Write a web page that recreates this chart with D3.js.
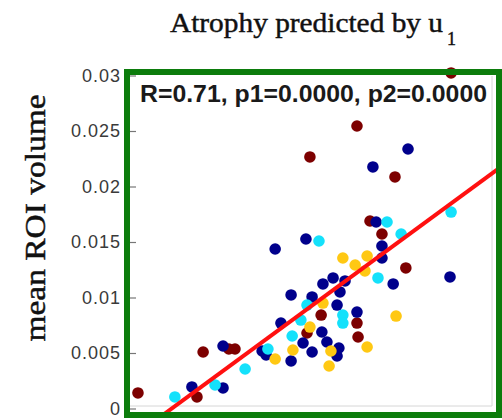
<!DOCTYPE html>
<html>
<head>
<meta charset="utf-8">
<script src="https://cdn.jsdelivr.net/npm/d3@7"></script>
<style>
  html, body { margin: 0; padding: 0; background: #fff; }
  svg { display: block; }
</style>
</head>
<body>
<div id="chart"></div>
<script>
// ---- data ----
const titleText = "Atrophy predicted by u";
const titleSub = "1";
const yLabelText = "mean ROI volume";
const statsText = "R=0.71, p1=0.0000, p2=0.0000";

const yTickValues = [0, 0.005, 0.01, 0.015, 0.02, 0.025, 0.03];
const yTickLabels = ["0", "0.005", "0.01", "0.015", "0.02", "0.025", "0.03"];

const groupNames = ["darkred", "navy", "cyan", "yellow"];
const groupColors = ["#7d0000", "#00008c", "#14e1fb", "#ffc813"];

const darkredX = [0.887, 0.627, 0.497, 0.732, 0.663, 0.696, 0.762, 0.528, 0.489, 0.627, 0.630, 0.022, 0.185, 0.202, 0.273, 0.290];
const darkredY = [0.03023, 0.02545, 0.02266, 0.02086, 0.01689, 0.01572, 0.01266, 0.00842, 0.00680, 0.00770, 0.00644, 0.00140, 0.00104, 0.00509, 0.00536, 0.00536];

const navyX = [0.768, 0.671, 0.680, 0.486, 0.401, 0.696, 0.696, 0.884, 0.727, 0.561, 0.533, 0.594, 0.580, 0.445, 0.503, 0.572, 0.627, 0.417, 0.530, 0.478, 0.544, 0.503, 0.572, 0.577, 0.445, 0.365, 0.376, 0.257, 0.171, 0.257];
const navyY = [0.02338, 0.02176, 0.01680, 0.01527, 0.01437, 0.01464, 0.01356, 0.01185, 0.01122, 0.01176, 0.01122, 0.01149, 0.01050, 0.01023, 0.01005, 0.00932, 0.00869, 0.00770, 0.00689, 0.00590, 0.00599, 0.00509, 0.00473, 0.00545, 0.00428, 0.00518, 0.00482, 0.00563, 0.00194, 0.00185];

const cyanX = [0.887, 0.710, 0.749, 0.522, 0.685, 0.489, 0.472, 0.588, 0.588, 0.448, 0.381, 0.318, 0.235, 0.124];
const cyanY = [0.01770, 0.01680, 0.01572, 0.01509, 0.01176, 0.00932, 0.00797, 0.00842, 0.00770, 0.00653, 0.00536, 0.00356, 0.00212, 0.00104];

const yellowX = [0.588, 0.655, 0.622, 0.649, 0.533, 0.497, 0.735, 0.450, 0.555, 0.655, 0.401, 0.550];
const yellowY = [0.01356, 0.01374, 0.01293, 0.01239, 0.00950, 0.00734, 0.00833, 0.00527, 0.00518, 0.00554, 0.00446, 0.00383];

// fitted regression line: y = fitIntercept + fitSlope * x
const fitIntercept = -0.002763;
const fitSlope = 0.02394;
const fitXRange = [0.08, 1.03];

// ---- drawing ----
const W = 502, H = 420;
const svg = d3.select("#chart").append("svg").attr("width", W).attr("height", H);

const x = d3.scaleLinear().domain([0, 1]).range([130, 492]);
const y = d3.scaleLinear().domain([0, 0.03]).range([408.5, 75.5]);

// faint inner axes box (right / bottom)
svg.append("line").attr("x1", 130).attr("x2", 492).attr("y1", 406).attr("y2", 406)
  .attr("stroke", "#d6d6d6").attr("stroke-width", 1);
svg.append("line").attr("x1", 492).attr("x2", 492).attr("y1", 76).attr("y2", 406)
  .attr("stroke", "#d6d6d6").attr("stroke-width", 1);

// y axis
const yAxis = d3.axisLeft(y).tickValues(yTickValues)
  .tickFormat((d, i) => yTickLabels[i]).tickSizeInner(-6).tickSizeOuter(0).tickPadding(9);
const gy = svg.append("g").attr("transform", "translate(130,0)").call(yAxis);
gy.select(".domain").remove();
gy.selectAll(".tick line").attr("stroke", "#777").attr("stroke-width", 1.2);
gy.selectAll(".tick text")
  .attr("font-family", "'Liberation Sans', Arial, sans-serif")
  .attr("font-size", 18).attr("fill", "#3a3a3a").attr("letter-spacing", 1);

// points
const groups = [
  { xs: darkredX, ys: darkredY, color: groupColors[0] },
  { xs: navyX, ys: navyY, color: groupColors[1] },
  { xs: cyanX, ys: cyanY, color: groupColors[2] },
  { xs: yellowX, ys: yellowY, color: groupColors[3] }
];
const gp = svg.append("g");
groups.forEach(g => {
  gp.selectAll(null).data(g.xs.map((v, i) => [v, g.ys[i]])).enter()
    .append("circle")
    .attr("cx", d => x(d[0])).attr("cy", d => y(d[1])).attr("r", 5.8)
    .attr("fill", g.color);
});

// regression line (clipped to box interior)
svg.append("clipPath").attr("id", "clip").append("rect")
  .attr("x", 130).attr("y", 75).attr("width", 366).attr("height", 337);
const line = d3.line().x(d => x(d)).y(d => y(fitIntercept + fitSlope * d));
svg.append("path").attr("clip-path", "url(#clip)")
  .attr("d", line(fitXRange)).attr("fill", "none")
  .attr("stroke", "#ff1010").attr("stroke-width", 4);

// green frame
svg.append("rect").attr("x", 127).attr("y", 72).attr("width", 372).attr("height", 343)
  .attr("fill", "none").attr("stroke", "#0c7c0c").attr("stroke-width", 6);

// stats text
svg.append("text").attr("x", 140).attr("y", 102)
  .attr("font-family", "'Liberation Sans', Arial, sans-serif").attr("font-weight", "bold")
  .attr("font-size", 24).attr("fill", "#1a1a1a")
  .attr("textLength", 347).attr("lengthAdjust", "spacingAndGlyphs")
  .text(statsText);

// title
const t = svg.append("text").attr("x", 170).attr("y", 32)
  .attr("font-family", "'Liberation Serif', 'Times New Roman', serif")
  .attr("font-size", 28).attr("fill", "#111")
  .attr("stroke", "#111").attr("stroke-width", 0.45);
t.append("tspan").attr("textLength", 273).attr("lengthAdjust", "spacingAndGlyphs").text(titleText);
svg.append("text").attr("x", 447).attr("y", 45)
  .attr("font-family", "'Liberation Serif', 'Times New Roman', serif")
  .attr("font-size", 18).attr("fill", "#111")
  .attr("stroke", "#111").attr("stroke-width", 0.4).text(titleSub);

// y label
svg.append("text")
  .attr("transform", "translate(45,218) rotate(-90)")
  .attr("text-anchor", "middle")
  .attr("font-family", "'Liberation Serif', 'Times New Roman', serif")
  .attr("font-size", 30).attr("fill", "#111")
  .attr("stroke", "#111").attr("stroke-width", 0.45)
  .attr("textLength", 247).attr("lengthAdjust", "spacingAndGlyphs")
  .text(yLabelText);
</script>
</body>
</html>
